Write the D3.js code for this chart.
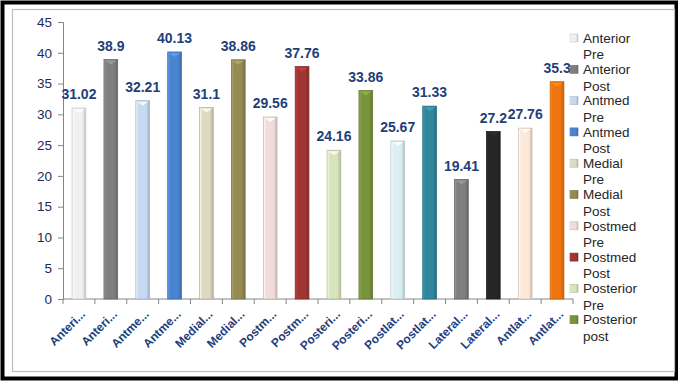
<!DOCTYPE html>
<html>
<head>
<meta charset="utf-8">
<script src="https://cdn.jsdelivr.net/npm/d3@7"></script>
<style>
  body { margin: 0; background: #fff; }
  svg { display: block; font-family: "Liberation Sans", Arial, sans-serif; }
</style>
</head>
<body>
<svg id="chart" width="678" height="381"></svg>
<script>
// categories and values
var categories = ["Anterior Pre", "Anterior Post", "Antmed Pre", "Antmed Post",
    "Medial Pre", "Medial Post", "Postmed Pre", "Postmed Post",
    "Posterior Pre", "Posterior post", "Postlat Pre", "Postlat Post",
    "Lateral Pre", "Lateral Post", "Antlat Pre", "Antlat Post"];
var tickLabels = ["Anteri...", "Anteri...", "Antme...", "Antme...", "Medial...", "Medial...",
    "Postm...", "Postm...", "Posteri...", "Posteri...", "Postlat...", "Postlat...",
    "Lateral...", "Lateral...", "Antlat...", "Antlat..."];
var values = [31.02, 38.9, 32.21, 40.13, 31.1, 38.86, 29.56, 37.76,
    24.16, 33.86, 25.67, 31.33, 19.41, 27.2, 27.76, 35.3];
var valueLabels = ["31.02", "38.9", "32.21", "40.13", "31.1", "38.86", "29.56", "37.76",
    "24.16", "33.86", "25.67", "31.33", "19.41", "27.2", "27.76", "35.3"];
var colors = ["#f0f0f0", "#7f7f7f", "#c6d9f1", "#4a84cf", "#ddd9c3", "#948a54",
    "#f2dcdb", "#a03533", "#d7e4bd", "#77933c", "#dbeef4", "#31859c",
    "#7f7f7f", "#262626", "#fde9d9", "#ee7410"];
// the legend only shows the first ten entries (cut off in the original)
var legendCount = 10;

var svg = d3.select("#chart"),
    margin = {top: 22, right: 105, bottom: 82, left: 63},
    width = 678,
    height = 381;

// frame
svg.append("rect")
    .attr("x", 2.5).attr("y", 2.5)
    .attr("width", width - 4).attr("height", height - 5)
    .attr("fill", "#fff")
    .attr("stroke", "#000")
    .attr("stroke-width", 4);
svg.append("rect")
    .attr("x", 12.5).attr("y", 9.5)
    .attr("width", 662).attr("height", 362)
    .attr("fill", "none")
    .attr("stroke", "#bfbfbf")
    .attr("stroke-width", 1.2);

var x = d3.scaleBand().domain(d3.range(categories.length))
        .range([margin.left, width - margin.right]).padding(0),
    y = d3.scaleLinear().domain([0, 45]).range([height - margin.bottom, margin.top]);

var barW = x.bandwidth() * 0.43;

var defs = svg.append("defs");
colors.forEach(function(c, i) {
    var g = defs.append("linearGradient").attr("id", "g" + i)
        .attr("x1", "0").attr("x2", "1").attr("y1", "0").attr("y2", "0");
    g.append("stop").attr("offset", "0%").attr("stop-color", d3.color(c).brighter(0.5));
    g.append("stop").attr("offset", "20%").attr("stop-color", c);
    g.append("stop").attr("offset", "75%").attr("stop-color", c);
    g.append("stop").attr("offset", "100%").attr("stop-color", d3.color(c).darker(0.6));
});

// axes
var yAxis = d3.axisLeft(y).tickValues(d3.range(0, 46, 5)).tickSize(5).tickPadding(6);
var gy = svg.append("g")
    .attr("transform", "translate(" + margin.left + ",0)")
    .call(yAxis);
gy.select(".domain").attr("stroke", "#868686");
gy.selectAll(".tick line").attr("stroke", "#868686");
gy.selectAll("text")
    .attr("fill", "#1f2a5a")
    .attr("font-size", 13.5)
    .attr("font-family", "'Liberation Sans', Arial, sans-serif");

var xTicks = d3.range(categories.length + 1);
var gx = svg.append("g");
gx.append("line")
    .attr("x1", margin.left).attr("x2", width - margin.right)
    .attr("y1", y(0)).attr("y2", y(0))
    .attr("stroke", "#868686");
gx.selectAll(".xt").data(xTicks).enter().append("line")
    .attr("class", "xt")
    .attr("x1", function(d) { return margin.left + d * x.step(); })
    .attr("x2", function(d) { return margin.left + d * x.step(); })
    .attr("y1", y(0)).attr("y2", y(0) + 5)
    .attr("stroke", "#868686");

gx.selectAll(".xl").data(tickLabels).enter().append("text")
    .attr("class", "xl")
    .attr("transform", function(d, i) {
        return "translate(" + (x(i) + x.bandwidth() / 2 + 4) + "," + (y(0) + 13) + ") rotate(-45)";
    })
    .attr("text-anchor", "end")
    .attr("dy", "0.35em")
    .attr("font-size", 12)
    .attr("font-weight", "bold")
    .attr("fill", "#1f3f80")
    .text(function(d) { return d; });

// bars
var bars = svg.append("g");
bars.selectAll("rect").data(values).enter().append("rect")
    .attr("x", function(d, i) { return x(i) + (x.bandwidth() - barW) / 2; })
    .attr("y", function(d) { return y(d); })
    .attr("width", barW)
    .attr("height", function(d) { return y(0) - y(d); })
    .attr("fill", function(d, i) { return "url(#g" + i + ")"; })
    .attr("stroke", function(d, i) { return d3.color(colors[i]).darker(0.5); })
    .attr("stroke-width", 0.8);

// bevel highlight on top of each bar
bars.selectAll("path").data(values).enter().append("path")
    .attr("d", function(d, i) {
        var x0 = x(i) + (x.bandwidth() - barW) / 2, x1 = x0 + barW, t = y(d);
        return "M" + (x0 + 1) + "," + (t + 1) + "L" + (x1 - 1) + "," + (t + 1) +
            "L" + (x0 + barW / 2) + "," + (t + 5) + "Z";
    })
    .attr("fill", function(d, i) { return d3.color(colors[i]).brighter(0.6); })
    .attr("opacity", 0.8);

// value labels
svg.append("g").selectAll("text").data(values).enter().append("text")
    .attr("x", function(d, i) { return x(i) + x.bandwidth() / 2; })
    .attr("y", function(d) { return y(d) - 9; })
    .attr("text-anchor", "middle")
    .attr("font-size", 14)
    .attr("font-weight", "bold")
    .attr("fill", "#1f3f7a")
    .text(function(d, i) { return valueLabels[i]; });

// legend
var legend = svg.append("g").attr("transform", "translate(570,38)");
var items = legend.selectAll("g").data(categories.slice(0, legendCount)).enter().append("g")
    .attr("transform", function(d, i) { return "translate(0," + (i * 31.3) + ")"; });
items.append("rect")
    .attr("x", 0).attr("y", -4)
    .attr("width", 8).attr("height", 8)
    .attr("fill", function(d, i) { return "url(#g" + i + ")"; })
    .attr("stroke", function(d, i) { return d3.color(colors[i]).darker(0.5); })
    .attr("stroke-width", 0.6);
items.append("text")
    .attr("x", 13).attr("y", 0).attr("dy", "0.35em")
    .attr("font-size", 13.5)
    .attr("fill", "#262626")
    .text(function(d) { return d.split(" ")[0]; });
items.append("text")
    .attr("x", 13).attr("y", 16.5).attr("dy", "0.35em")
    .attr("font-size", 13.5)
    .attr("fill", "#262626")
    .text(function(d) { return d.split(" ")[1]; });
</script>
</body>
</html>
